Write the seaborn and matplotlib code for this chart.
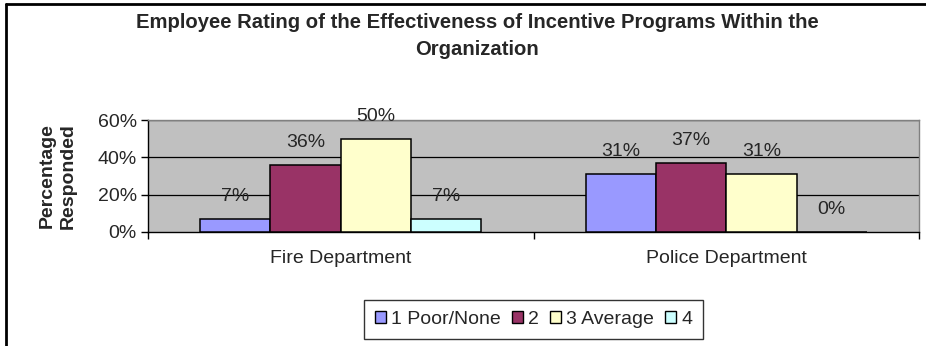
import matplotlib
matplotlib.use("Agg")
import matplotlib.pyplot as plt
from matplotlib.lines import Line2D
from matplotlib.patches import Patch
import seaborn as sns
import pandas as pd

# Survey results: share of respondents choosing each rating
departments = ["Fire Department", "Police Department"]
ratings = ["1 Poor/None", "2", "3 Average", "4"]
fire_pct = [7, 36, 50, 7]
police_pct = [31, 37, 31, 0]
rating_colors = ["#9999FF", "#993366", "#FFFFCC", "#CCFFFF"]
y_ticks = [0, 20, 40, 60]
title = "Employee Rating of the Effectiveness of Incentive Programs Within the\nOrganization"

rows = []
for dept, vals in zip(departments, [fire_pct, police_pct]):
    for r, v in zip(ratings, vals):
        rows.append({"Department": dept, "Rating": r, "Percent": v})
df = pd.DataFrame(rows)

sns.set_theme(style="white")
plt.rcParams["font.family"] = ["Liberation Sans", "DejaVu Sans"]

FS = 14

fig = plt.figure(figsize=(9.26, 3.46), dpi=100)
ax = fig.add_axes([148 / 926, 1 - 232 / 346, 771 / 926, 112 / 346])

sns.barplot(data=df, x="Department", y="Percent", hue="Rating",
            hue_order=ratings, order=departments, palette=rating_colors,
            width=0.73, gap=0, edgecolor="black", linewidth=1.1,
            saturation=1, ax=ax, legend=False, zorder=3)

ax.set_facecolor("#C0C0C0")
ax.set_xlim(-0.5, 1.5)
ax.set_ylim(0, 60)
ax.set_yticks(y_ticks)
ax.set_yticklabels([f"{t}%" for t in y_ticks], fontsize=FS)
for t in y_ticks[1:]:
    ax.axhline(t, color="black", linewidth=0.9, zorder=1)

# value labels above each bar
for cont in ax.containers:
    ax.bar_label(cont, labels=[f"{v:.0f}%" for v in cont.datavalues],
                 padding=10, fontsize=FS, zorder=4)

for side in ["top", "right"]:
    ax.spines[side].set_color("#808080")
    ax.spines[side].set_linewidth(1.0)
for side in ["left", "bottom"]:
    ax.spines[side].set_color("black")
    ax.spines[side].set_linewidth(1.0)

ax.tick_params(axis="y", which="major", direction="out", length=5,
               width=1, color="black", left=True, pad=3)
ax.tick_params(axis="x", which="major", length=0, pad=13, labelsize=FS)
ax.set_xticks([-0.5, 0.5, 1.5], minor=True)
ax.tick_params(axis="x", which="minor", direction="out", length=5,
               width=1, color="black", bottom=True)

ax.set_xlabel("")
ax.set_ylabel("Percentage\nResponded", fontsize=FS, fontweight="bold",
              labelpad=15, linespacing=1.3)

fig.text(477.5 / 926, 1 - 36 / 346, title, ha="center", va="center",
         fontsize=14.6, fontweight="bold", linespacing=1.55)

# chart frame along the top and left edges
fig.add_artist(Line2D([6 / 926, 1], [1 - 4 / 346, 1 - 4 / 346],
                      transform=fig.transFigure, color="black", linewidth=2))
fig.add_artist(Line2D([6 / 926, 6 / 926], [0, 1 - 4 / 346],
                      transform=fig.transFigure, color="black", linewidth=2))

handles = [Patch(facecolor=c, edgecolor="black", linewidth=1) for c in rating_colors]
leg = fig.legend(handles, ratings, loc="center", ncol=4,
                 bbox_to_anchor=(533.5 / 926, 1 - 319.5 / 346),
                 fontsize=FS, frameon=True, fancybox=False,
                 handlelength=0.6, handleheight=0.6, handletextpad=0.25,
                 columnspacing=0.55, borderpad=0.55, borderaxespad=0)
leg.get_frame().set_edgecolor("black")
leg.get_frame().set_linewidth(1)

fig.savefig("out.png", dpi=100)
